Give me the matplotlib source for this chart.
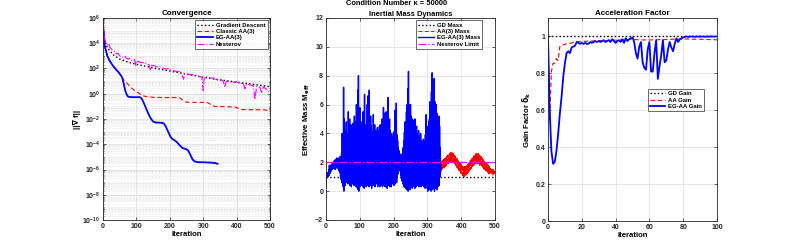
import numpy as np
import matplotlib
matplotlib.use("Agg")
import matplotlib.pyplot as plt
from matplotlib.ticker import LogLocator, NullFormatter

plt.rcParams['font.family'] = ['Liberation Sans', 'DejaVu Sans']
plt.rcParams['font.weight'] = 'bold'
plt.rcParams['mathtext.default'] = 'bf'

# ---------------- Panel 1: convergence (log10 of ||grad f||) ----------------
gd_it = [0, 2, 5, 10, 20, 30, 50, 75, 100, 150, 200, 250, 300, 350, 400, 450, 500]
gd_log = [5.5, 4.6, 4.2, 3.8, 3.4, 3.1, 2.75, 2.5, 2.33, 2.05, 1.8, 1.55, 1.3, 1.1, 0.92, 0.75, 0.55]

nes_it = [0, 3, 6, 9, 12, 15, 18, 21, 25, 30, 35, 40, 45, 50, 55, 60, 65, 70, 75, 80, 85, 90, 95, 98,
          101, 110, 120, 125, 130, 138, 142, 146, 155, 165, 170, 180, 190, 195, 205, 215, 225, 232,
          237, 241, 245, 255, 265, 275, 285, 292, 296, 300, 303, 310, 320, 330, 340, 350, 360, 365,
          369, 380, 390, 400, 410, 420, 425, 430, 440, 450, 455, 460, 470, 475, 480, 490, 495, 500]
nes_log = [5.5, 4.8, 4.25, 4.05, 3.95, 3.8, 3.9, 3.65, 3.55, 3.4, 3.35, 3.15, 3.2, 3.0, 2.95, 2.9, 3.0,
           2.8, 2.75, 2.8, 2.65, 2.6, 2.7, 2.25, 2.6, 2.5, 2.45, 2.5, 2.35, 2.3, 1.85, 2.25, 2.2, 2.1,
           2.15, 2.0, 1.95, 2.0, 1.85, 1.8, 1.75, 1.75, 1.5, 1.15, 1.6, 1.55, 1.5, 1.5, 1.4, 1.35,
           1.3, 0.25, 1.25, 1.35, 1.25, 1.25, 1.05, 1.15, 1.0, 0.5, 1.0, 0.95, 0.9, 0.95, 0.8, 0.85,
           0.4, 0.8, 0.7, 0.65, -0.45, 0.6, 0.5, 0.05, 0.55, 0.35, 0.15, 0.15]

aa_it = [0, 2, 4, 7, 10, 13, 18, 25, 33, 40, 48, 55, 56, 60, 68, 80, 90, 100, 107, 115, 125, 135, 150,
         180, 220, 232, 240, 247, 260, 300, 315, 325, 335, 360, 395, 405, 415, 440, 480, 490, 500]
aa_log = [5.5, 4.8, 4.0, 3.6, 3.3, 3.0, 2.7, 2.4, 2.1, 1.9, 1.65, 1.4, 1.3, 1.15, 0.95, 0.6, 0.35, 0.15,
          0.05, -0.1, -0.2, -0.25, -0.28, -0.3, -0.3, -0.35, -0.55, -0.65, -0.68, -0.68, -0.72, -0.9,
          -1.0, -1.02, -1.05, -1.15, -1.25, -1.27, -1.27, -1.3, -1.45]

eg_it = [0, 2, 4, 7, 10, 13, 18, 25, 33, 40, 48, 55, 58, 62, 66, 70, 74, 78, 85, 100, 110, 115, 120,
         128, 136, 143, 150, 157, 175, 182, 188, 195, 202, 208, 215, 222, 230, 238, 248, 255, 260,
         268, 275, 285, 300, 320, 335, 343]
eg_log = [5.5, 4.8, 4.0, 3.6, 3.3, 3.0, 2.7, 2.4, 2.1, 1.9, 1.65, 1.4, 1.25, 0.8, 0.3, 0.0, -0.2, -0.25,
          -0.27, -0.27, -0.27, -0.35, -0.6, -1.1, -1.6, -1.95, -2.2, -2.28, -2.3, -2.35, -2.6, -3.0,
          -3.4, -3.6, -3.7, -3.85, -4.1, -4.3, -4.38, -4.5, -4.75, -5.2, -5.37, -5.42, -5.43, -5.45,
          -5.48, -5.55]

# ---------------- Panel 2: effective mass ----------------
eg_mass = [
    0.3, 1.0, 0.9, 1.2, 1.0, 1.1, 1.3, 1.0, 1.5, 1.1,
    1.8, 1.2, 1.6, 1.3, 1.8, 1.4, 1.7, 1.5, 1.9, 1.5,
    2.0, 1.6, 1.9, 1.6, 2.1, 1.7, 1.9, 1.5, 2.2, 1.6,
    2.1, 1.7, 2.3, 1.6, 2.2, 1.8, 2.0, 1.5, 2.3, 1.4,
    2.2, 1.3, 2.4, 1.0, 2.3, 0.8, 2.6, 0.6, 4.0, 0.5,
    3.8, 0.3, 7.2, 0.0, 5.0, 0.5, 4.2, 0.4, 3.9, 0.8,
    4.8, 0.6, 4.0, 0.9, 3.8, 0.5, 5.5, 0.7, 4.3, 0.6,
    5.0, 0.4, 3.9, 0.8, 4.6, 0.3, 3.7, 0.6, 4.1, 0.5,
    4.7, 0.7, 3.9, 0.4, 5.2, 0.8, 4.2, 0.5, 4.8, 0.3,
    6.0, 0.6, 4.5, 0.2, 7.0, 0.1, 8.0, 0.0, 5.2, 0.4,
    5.8, 0.3, 4.2, 0.7, 4.8, 0.4, 4.1, 0.6, 4.5, 0.3,
    5.5, 0.5, 4.4, 0.2, 6.7, 0.4, 3.9, 0.6, 4.6, 0.3,
    4.3, 0.8, 6.0, 0.4, 6.6, 0.5, 4.5, 0.3, 7.0, 0.6,
    4.8, 0.4, 5.2, 0.7, 4.5, 0.2, 3.8, 0.6, 4.1, 0.4,
    5.3, 0.5, 4.0, 0.7, 4.6, 0.3, 3.7, 0.8, 4.2, 0.5,
    4.0, 0.6, 4.4, 0.3, 3.6, 0.7, 4.2, 0.5, 4.5, 0.3,
    4.6, 0.7, 3.9, 0.4, 4.3, 0.8, 5.0, 0.3, 4.2, 0.6,
    5.8, 0.4, 4.3, 0.7, 5.4, 0.3, 4.5, 0.6, 5.5, 0.5,
    5.4, 0.2, 4.8, 0.6, 6.5, 0.4, 4.4, 0.7, 5.0, 0.3,
    4.2, 0.6, 3.9, 0.3, 4.0, 0.8, 3.5, 0.5, 3.8, 0.7,
    4.1, 0.4, 3.7, 0.9, 5.6, 0.5, 4.4, 0.8, 6.1, 0.6,
    3.9, 1.0, 3.5, 1.2, 3.0, 1.5, 2.8, 1.7, 2.6, 1.4,
    2.4, 1.1, 2.5, 0.9, 2.3, 0.7, 2.6, 0.5, 3.0, 0.6,
    3.5, 0.3, 4.1, 0.5, 4.8, 0.2, 4.2, 0.4, 5.5, 0.1,
    6.0, 0.3, 7.1, 0.0, 8.3, 0.2, 6.0, 0.4, 5.8, 0.1,
    6.0, 0.3, 5.2, 0.5, 4.8, 0.2, 5.0, 0.4, 4.6, 0.3,
    4.9, 0.5, 4.2, 0.2, 5.0, 0.6, 4.1, 0.3, 4.5, 0.5,
    4.0, 0.4, 3.6, 0.7, 4.2, 0.3, 3.8, 0.6, 3.7, 0.5,
    4.0, 0.3, 3.5, 0.6, 3.2, 0.4, 3.4, 0.7, 3.6, 0.3,
    3.5, 0.5, 3.3, 0.2, 3.9, 0.4, 5.3, 0.3, 4.4, 0.2,
    4.0, 0.0, 4.5, 0.3, 4.8, 0.1, 5.0, 0.4, 6.2, 0.2,
    5.5, 0.0, 6.9, 0.3, 8.2, 0.1, 7.0, 0.4, 6.5, 0.2,
    7.8, 0.0, 6.2, 0.3, 5.5, 0.2, 6.0, 0.5, 5.4, 0.1,
    5.0, 0.3, 4.8, 0.6, 5.2, 0.4, 4.5, 1.0, 3.0, 1.5,
    1.8]

aa_mass = [
    1.3, 2.0, 1.4, 2.1, 1.5, 2.1, 1.5, 2.2, 1.6, 2.2,
    1.6, 2.3, 1.7, 2.3, 1.7, 2.4, 1.8, 2.4, 1.8, 2.5,
    1.9, 2.5, 1.9, 2.5, 2.0, 2.6, 2.0, 2.6, 2.0, 2.7,
    2.0, 2.6, 2.1, 2.7, 2.0, 2.6, 2.0, 2.6, 1.9, 2.5,
    1.9, 2.5, 1.8, 2.4, 1.8, 2.4, 1.7, 2.3, 1.6, 2.3,
    1.6, 2.2, 1.5, 2.1, 1.4, 2.0, 1.4, 2.0, 1.3, 1.9,
    1.2, 1.9, 1.2, 1.8, 1.1, 1.8, 1.1, 1.7, 1.0, 1.7,
    1.0, 1.7, 1.1, 1.7, 1.1, 1.8, 1.2, 1.8, 1.2, 1.9,
    1.3, 2.0, 1.3, 2.0, 1.4, 2.1, 1.5, 2.2, 1.5, 2.2,
    1.6, 2.3, 1.7, 2.3, 1.7, 2.4, 1.8, 2.5, 1.8, 2.5,
    1.9, 2.5, 1.9, 2.6, 1.9, 2.6, 2.0, 2.6, 1.9, 2.5,
    1.9, 2.6, 1.9, 2.5, 1.8, 2.5, 1.8, 2.4, 1.8, 2.4,
    1.7, 2.3, 1.7, 2.3, 1.6, 2.2, 1.6, 2.2, 1.5, 2.1,
    1.5, 2.0, 1.4, 2.0, 1.4, 1.9, 1.3, 1.9, 1.3, 1.8,
    1.3, 1.8, 1.2, 1.7, 1.2, 1.7, 1.2, 1.6, 1.2, 1.6,
    1.2, 1.5, 1.2, 1.5, 1.1, 1.5, 1.2, 1.4, 1.2, 1.4,
    1.2]
aa_mass_start = 340
gd_mass_value = 1.0
nesterov_limit = 2.0

# ---------------- Panel 3: gain factor ----------------
eg_gain = [
    1.0, 0.6, 0.38, 0.31, 0.32, 0.38, 0.47, 0.58, 0.67, 0.78,
    0.855, 0.91, 0.92, 0.91, 0.94, 0.945, 0.95, 0.97, 0.965, 0.96,
    0.965, 0.96, 0.965, 0.96, 0.96, 0.97, 0.965, 0.97, 0.975, 0.97,
    0.975, 0.97, 0.975, 0.98, 0.97, 0.975, 0.98, 0.97, 0.985, 0.975,
    0.965, 0.975, 0.98, 0.97, 0.985, 0.965, 0.99, 0.975, 0.985, 0.99,
    0.995, 0.97, 0.91, 0.88, 0.945, 0.97, 0.86, 0.83, 0.82, 0.93,
    0.97, 0.81, 0.81, 0.91, 0.98, 0.77, 0.84, 0.9, 0.98, 0.86,
    0.87, 0.93, 0.97, 0.94, 0.92, 0.96, 0.99, 0.97, 0.985, 0.99,
    0.995, 0.998, 1.0, 0.997, 1.0, 0.999, 1.0, 0.998, 1.0, 0.999,
    1.0, 0.999, 1.0, 0.998, 1.0, 0.999, 1.0, 1.0, 0.999, 1.0,
    1.0]
aa_gain = [
    1.0, 0.55, 0.81, 0.855, 0.855, 0.88, 0.87, 0.945, 0.955, 0.955,
    0.958, 0.96, 0.96, 0.962, 0.965, 0.968, 0.97, 0.97, 0.972, 0.972,
    0.973, 0.973, 0.974, 0.974, 0.975, 0.975, 0.975, 0.976, 0.976, 0.976,
    0.977, 0.977, 0.977, 0.978, 0.978, 0.978, 0.979, 0.979, 0.979, 0.98,
    0.98, 0.98, 0.981, 0.981, 0.982, 0.982, 0.983, 0.983, 0.984, 0.984,
    0.984, 0.983, 0.983, 0.982, 0.982, 0.982, 0.981, 0.981, 0.981, 0.981,
    0.981, 0.981, 0.982, 0.982, 0.982, 0.982, 0.983, 0.983, 0.983, 0.983,
    0.984, 0.984, 0.984, 0.984, 0.985, 0.985, 0.985, 0.985, 0.986, 0.986,
    0.986, 0.986, 0.986, 0.986, 0.986, 0.985, 0.985, 0.985, 0.985, 0.985,
    0.985, 0.984, 0.984, 0.984, 0.984, 0.983, 0.983, 0.983, 0.983, 0.982,
    0.982]
gd_gain_value = 1.0

# ---------------- figure ----------------
fig = plt.figure(figsize=(7.93, 2.48), dpi=100)
W, H = 793, 248

def add_axes(l, t, r, b):
    return fig.add_axes([l / W, 1 - b / H, (r - l) / W, (b - t) / H])

ax1 = add_axes(103, 18, 270, 220)
ax2 = add_axes(326, 18, 495, 220)
ax3 = add_axes(548, 18, 717, 221)

TICK = 5.0
LAB = 5.6
TIT = 5.8
LEG = 4.3
gridc = '#e3e3e3'

def style(ax):
    ax.tick_params(direction='in', top=True, right=True, labelsize=TICK, length=2, width=0.5,
                   pad=2, colors='#262626')
    ax.tick_params(which='minor', direction='in', top=True, right=True, length=1, width=0.4)
    for s in ax.spines.values():
        s.set_linewidth(0.6)
        s.set_color('#262626')
    ax.grid(True, which='major', color=gridc, lw=0.6)
    ax.set_axisbelow(True)

def make_legend(ax, **kw):
    leg = ax.legend(fontsize=LEG, frameon=True, fancybox=False, edgecolor='#262626',
                    borderpad=0.35, labelspacing=0.2, handlelength=2.6, handletextpad=0.5, **kw)
    leg.get_frame().set_linewidth(0.6)
    for t in leg.get_texts():
        t.set_fontweight('bold')
    return leg

# panel 1
ax1.semilogy(gd_it, 10.0 ** np.array(gd_log), ':', color='black', lw=1.0, label='Gradient Descent')
ax1.semilogy(aa_it, 10.0 ** np.array(aa_log), '--', color='red', lw=0.8, dashes=(4, 2.5), label='Classic AA(3)')
ax1.semilogy(eg_it, 10.0 ** np.array(eg_log), '-', color='#0000ff', lw=1.3, label='EG-AA(3)')
ax1.semilogy(nes_it, 10.0 ** np.array(nes_log), '-.', color='magenta', lw=0.8, label='Nesterov')
ax1.set_xlim(0, 500)
ax1.set_ylim(1e-10, 1e6)
ax1.set_yticks([10.0 ** k for k in range(-10, 7, 2)])
ax1.yaxis.set_minor_locator(LogLocator(base=10, subs=np.arange(1, 10), numticks=100))
ax1.yaxis.set_minor_formatter(NullFormatter())
style(ax1)
ax1.grid(True, which='minor', axis='y', color='#d0d0d0', lw=0.4, ls=':')
ax1.set_title('Convergence', fontsize=TIT, fontweight='bold', pad=2)
ax1.set_xlabel('Iteration', fontsize=LAB, fontweight='bold', labelpad=1)
ax1.set_ylabel('||∇ f||', fontsize=LAB, fontweight='bold', labelpad=1)
make_legend(ax1, loc='upper right', borderaxespad=0.4)

# panel 2
iters_eg = np.arange(len(eg_mass))
iters_aa = np.arange(aa_mass_start, aa_mass_start + len(aa_mass))
ax2.plot([0, 500], [gd_mass_value, gd_mass_value], ':', color='black', lw=1.0, label='GD Mass')
ax2.plot(iters_aa, aa_mass, '--', color='red', lw=0.7, dashes=(4, 2.5), label='AA(3) Mass')
ax2.plot(iters_eg, eg_mass, '-', color='#0000ff', lw=1.0, label='EG-AA(3) Mass')
ax2.plot([0, 500], [nesterov_limit, nesterov_limit], '-.', color='magenta', lw=0.9, label='Nesterov Limit')
ax2.set_xlim(0, 500)
ax2.set_ylim(-2, 12)
ax2.set_yticks(np.arange(-2, 13, 2))
style(ax2)
ax2.set_title('Inertial Mass Dynamics', fontsize=5.4, fontweight='bold', pad=0.2)
ax2.set_xlabel('Iteration', fontsize=LAB, fontweight='bold', labelpad=1)
ax2.set_ylabel('Effective Mass M$_{eff}$', fontsize=LAB, fontweight='bold', labelpad=2)
make_legend(ax2, loc='upper right', borderaxespad=0.4, bbox_to_anchor=(0.94, 1.0))

# panel 3
it3 = np.arange(len(eg_gain))
ax3.plot([0, 100], [gd_gain_value, gd_gain_value], ':', color='black', lw=1.0, label='GD Gain')
ax3.plot(it3, aa_gain, '--', color='red', lw=0.8, dashes=(4, 2.5), label='AA Gain')
ax3.plot(it3, eg_gain, '-', color='#0000ff', lw=1.3, label='EG-AA Gain')
ax3.set_xlim(0, 100)
ax3.set_ylim(0, 1.1)
ax3.set_yticks([0, 0.2, 0.4, 0.6, 0.8, 1.0])
ax3.set_yticklabels(['0', '0.2', '0.4', '0.6', '0.8', '1'])
style(ax3)
ax3.set_title('Acceleration Factor', fontsize=TIT, fontweight='bold', pad=2)
ax3.set_xlabel('Iteration', fontsize=LAB, fontweight='bold', labelpad=1)
ax3.set_ylabel('Gain Factor $\\delta_k$', fontsize=LAB, fontweight='bold', labelpad=2)
make_legend(ax3, loc='upper left', bbox_to_anchor=(0.59, 0.65), borderaxespad=0.0)

fig.text(0.5, 1 - 0.3 / H, 'Condition Number κ = 50000', ha='center', va='top',
         fontsize=5.4, fontweight='bold')

fig.savefig('out.png', dpi=100)
